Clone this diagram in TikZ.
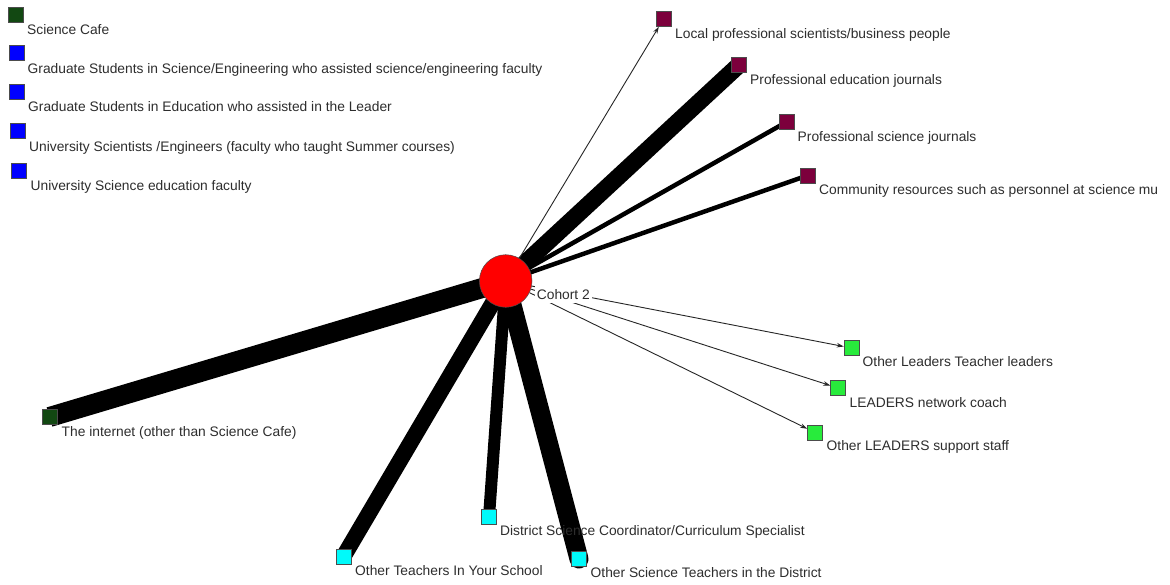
\documentclass[tikz,border=0pt]{standalone}
\usepackage{fontspec}
\setmainfont{Liberation Sans}
\usetikzlibrary{arrows.meta,backgrounds}
\definecolor{dkgreen}{RGB}{18,72,18}
\definecolor{nodeblue}{RGB}{0,0,255}
\definecolor{maroon}{RGB}{124,0,60}
\definecolor{ltgreen}{RGB}{40,235,60}
\definecolor{nodecyan}{RGB}{0,250,250}
\definecolor{txt}{RGB}{45,45,45}
\begin{document}
\begin{tikzpicture}[x=1pt,y=-1pt,
  sq/.style={rectangle,draw=black!70,line width=0.5pt,minimum size=15pt,inner sep=0pt},
  lbl/.style={anchor=base west,inner sep=0pt,text=txt,font=\fontsize{13.8}{16}\selectfont},
  thinarrow/.style={draw=black!85,line width=0.9pt,-{Stealth[length=7pt,width=4.5pt]}},
  heavy/.style={draw=black,line cap=butt}]
\useasboundingbox (0,0) rectangle (1170,584);
\clip (0,0) rectangle (1170,584);

% centre
\node[circle,draw=black!70,line width=0.5pt,fill=red,minimum size=52.6pt,inner sep=0pt] (c) at (505.7,281) {};

% legend (isolates)
\node[sq,fill=dkgreen] (sc) at (15.5,15) {};
\node[lbl] (scl) at (27,34) {Science Cafe};
\node[sq,fill=nodeblue] (gs) at (17,52.5) {};
\node[lbl] (gsl) at (27.5,73) {Graduate Students in Science/Engineering who assisted science/engineering faculty};
\node[sq,fill=nodeblue] (ge) at (17,92) {};
\node[lbl] (gel) at (28,111) {Graduate Students in Education who assisted in the Leader};
\node[sq,fill=nodeblue] (us) at (17.5,131) {};
\node[lbl] (usl) at (29,151) {University Scientists /Engineers (faculty who taught Summer courses)};
\node[sq,fill=nodeblue] (ue) at (19,170.5) {};
\node[lbl] (uel) at (30.5,190) {University Science education faculty};

% maroon
\node[sq,fill=maroon] (lp) at (663.5,19) {};
\node[lbl] (lpl) at (675,38) {Local professional scientists/business people};
\node[sq,fill=maroon] (pe) at (739,65) {};
\node[lbl] (pel) at (750,84) {Professional education journals};
\node[sq,fill=maroon] (ps) at (786.5,122) {};
\node[lbl] (psl) at (797.5,141) {Professional science journals};
\node[sq,fill=maroon] (cr) at (807.5,175.5) {};
\node[lbl] (crl) at (819,194) {Community resources such as personnel at science mu};

% green
\node[sq,fill=ltgreen] (ol) at (851.5,348) {};
\node[lbl] (oll) at (862.5,366) {Other Leaders Teacher leaders};
\node[sq,fill=ltgreen] (nc) at (838,388) {};
\node[lbl] (ncl) at (849.5,407.5) {LEADERS network coach};
\node[sq,fill=ltgreen] (ss) at (815,432.5) {};
\node[lbl] (ssl) at (826.5,450.5) {Other LEADERS support staff};

% cyan
\node[sq,fill=nodecyan] (dc) at (489,517) {};
\node[lbl] (dcl) at (500,535) {District Science Coordinator/Curriculum Specialist};
\node[sq,fill=nodecyan] (ot) at (343.5,556.5) {};
\node[lbl] (otl) at (355,575.5) {Other Teachers In Your School};
\node[sq,fill=nodecyan] (os) at (579,559) {};
\node[lbl] (osl) at (590.5,577.5) {Other Science Teachers in the District};

% internet
\node[sq,fill=dkgreen] (in) at (49.5,417) {};
\node[lbl] (inl) at (61.5,436.5) {The internet (other than Science Cafe)};

% centre label
\node[anchor=base west,fill=white,inner xsep=2pt,inner ysep=3.5pt,text=txt,font=\fontsize{13.8}{16}\selectfont] (cl) at (534.7,299.3) {Cohort 2};

\begin{pgfonlayer}{background}
\fill[white] (0,0) rectangle (1170,584);
\draw[heavy,line width=20pt] (c.center) -- (in.center);
\draw[heavy,line width=17pt] (c.center) -- (pe.center);
\draw[heavy,line width=19pt,line cap=round] (c.center) -- (os.center);
\draw[heavy,line width=16pt] (c.center) -- (ot.center);
\draw[heavy,line width=12pt] (c.center) -- (dc.center);
\draw[heavy,line width=4.5pt] (c.center) -- (ps.center);
\draw[heavy,line width=4.5pt] (c.center) -- (cr.center);
\draw[thinarrow] (c) -- (lp);
\draw[thinarrow] (c) -- (ol);
\draw[thinarrow] (c) -- (nc);
\draw[thinarrow] (c) -- (ss);
\end{pgfonlayer}
\end{tikzpicture}
\end{document}
